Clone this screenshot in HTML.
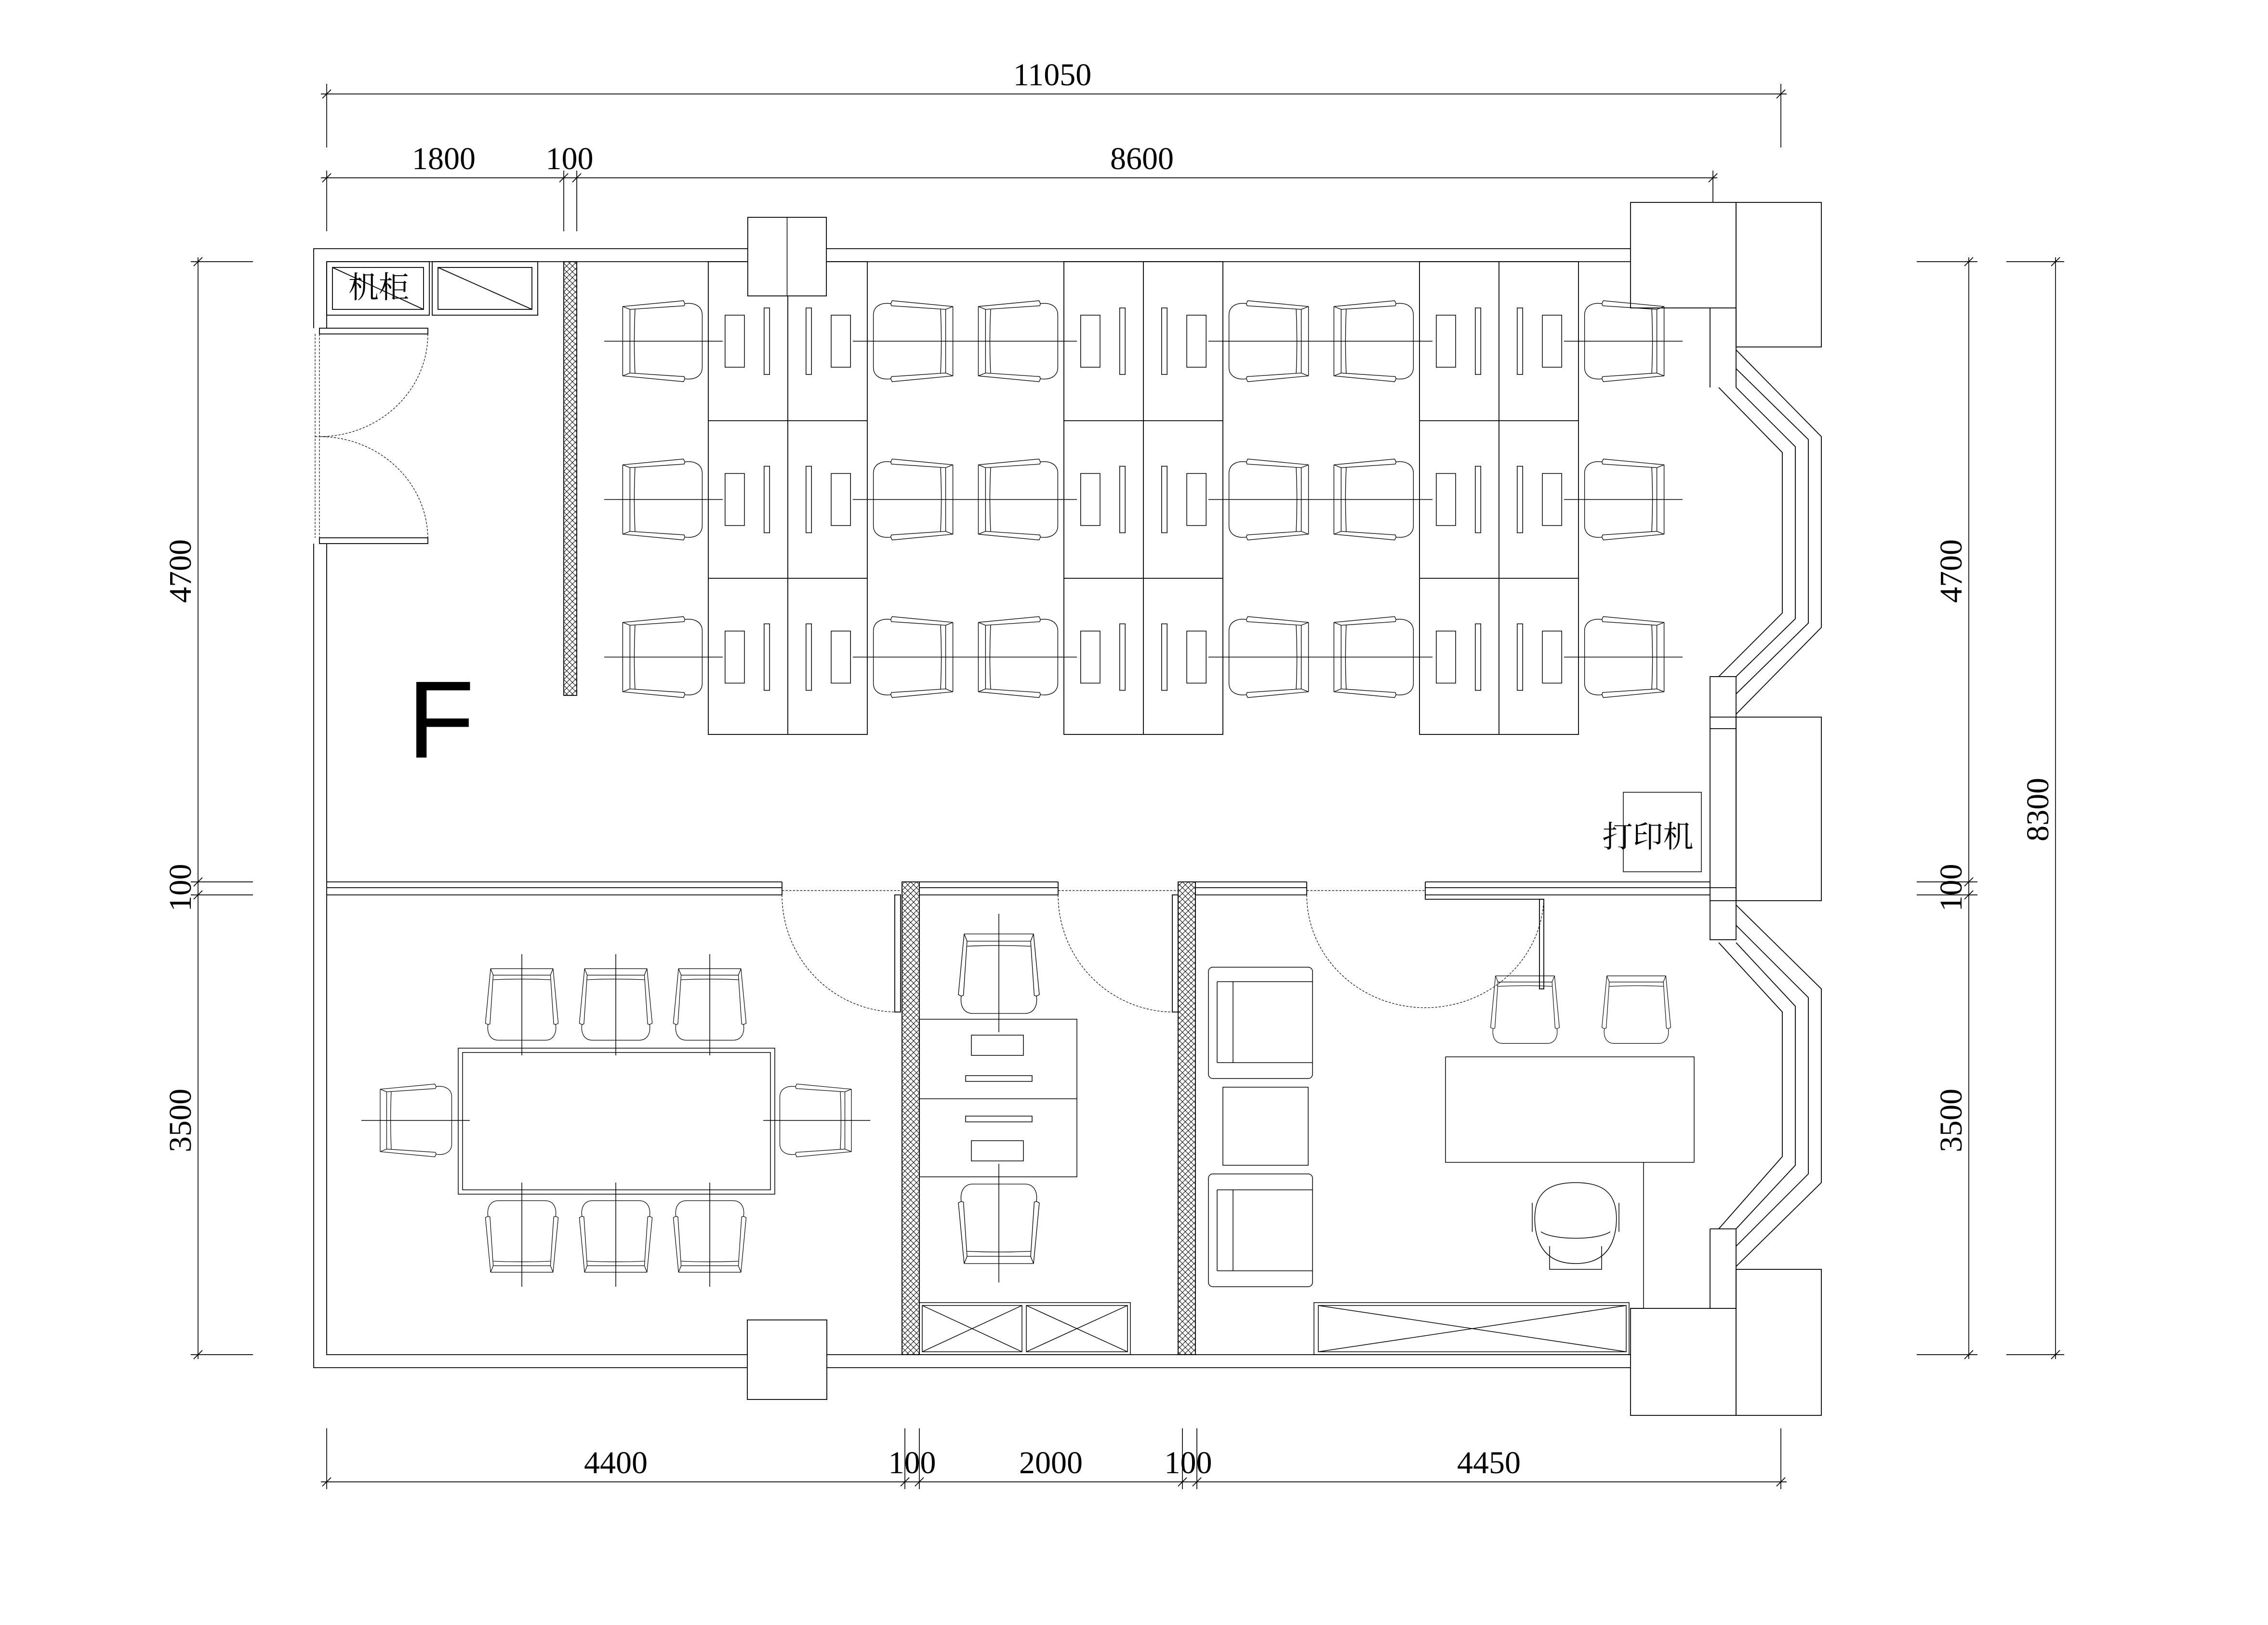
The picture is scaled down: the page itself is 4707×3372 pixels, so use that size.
<!DOCTYPE html>
<html><head><meta charset="utf-8"><style>
html,body{margin:0;padding:0;background:#fff;}
svg{display:block;}
text{font-family:"Liberation Serif","Noto Serif CJK SC","Noto Sans CJK SC",serif;fill:#000;}
</style></head><body>
<svg xmlns="http://www.w3.org/2000/svg" width="4707" height="3372" viewBox="0 0 1569 1124">
<defs>
<pattern id="h" width="4" height="4" patternUnits="userSpaceOnUse">
<path d="M0,0L4,4M4,0L0,4" stroke="#000" stroke-width="0.35"/>
</pattern>
<g id="ch" fill="none" stroke="#000" stroke-width="0.45">
<path d="M0,-24L0,24M5,-22L5,22"/>
<path d="M0,-24L42,-28L43,-26L42.5,-24.5L5,-22Z"/>
<path d="M0,24L42,28L43,26L42.5,24.5L5,22Z"/>
<path d="M43,-26C50,-27 55,-24 55,-18L55,18C55,24 50,27 43,26"/>
<path d="M8.5,-22Q7.5,0 8.5,22"/>
</g>
<g id="tk"><path d="M-3,3L3,-3" stroke="#000" stroke-width="0.6"/></g>
</defs>
<g fill="none" stroke="#000" stroke-width="0.55">
<path d="M222,65H1236M226,58V102M1232,58V102"/>
<path d="M222,123H1188M226,118V160M390,118V160M399,118V160M1185,118V160"/>
<path d="M222,1025H1236M226,988V1030M626,988V1030M636,988V1030M818,988V1030M828,988V1030M1232,988V1030"/>
<path d="M137,178V940M132,181H175M132,610H175M132,619H175M132,937H175"/>
<path d="M1362,178V940M1326,181H1368M1326,610H1368M1326,619H1368M1326,937H1368"/>
<path d="M1422,178V940M1388,181H1428M1388,937H1428"/>
</g>
<g>
<use href="#tk" x="226" y="65"/><use href="#tk" x="1232" y="65"/>
<use href="#tk" x="226" y="123"/><use href="#tk" x="390" y="123"/><use href="#tk" x="399" y="123"/><use href="#tk" x="1185" y="123"/>
<use href="#tk" x="226" y="1025"/><use href="#tk" x="626" y="1025"/><use href="#tk" x="636" y="1025"/><use href="#tk" x="818" y="1025"/><use href="#tk" x="828" y="1025"/><use href="#tk" x="1232" y="1025"/>
<use href="#tk" x="137" y="181"/><use href="#tk" x="137" y="610"/><use href="#tk" x="137" y="619"/><use href="#tk" x="137" y="937"/>
<use href="#tk" x="1362" y="181"/><use href="#tk" x="1362" y="610"/><use href="#tk" x="1362" y="619"/><use href="#tk" x="1362" y="937"/>
<use href="#tk" x="1422" y="181"/><use href="#tk" x="1422" y="937"/>
</g>
<g font-size="22" text-anchor="middle">
<text x="728" y="59">11050</text>
<text x="307" y="117">1800</text><text x="394" y="117">100</text><text x="790" y="117">8600</text>
<text x="426" y="1019">4400</text><text x="631" y="1019">100</text><text x="727" y="1019">2000</text><text x="822" y="1019">100</text><text x="1030" y="1019">4450</text>
<text transform="translate(132,395) rotate(-90)">4700</text>
<text transform="translate(132,614) rotate(-90)">100</text>
<text transform="translate(132,775) rotate(-90)">3500</text>
<text transform="translate(1357,395) rotate(-90)">4700</text>
<text transform="translate(1357,614) rotate(-90)">100</text>
<text transform="translate(1357,775) rotate(-90)">3500</text>
<text transform="translate(1417,560) rotate(-90)">8300</text>
</g>

<g fill="none" stroke="#000" stroke-width="0.6">
<path d="M217,227V172H1128M226,227V181H1128"/>
<path d="M217,376V946H1128M226,376V937H1128"/>
<rect x="221" y="227" width="75" height="4"/>
<rect x="221" y="372" width="75" height="4"/>
<path d="M218,231V372M221,231V372" stroke-dasharray="1.5,1" stroke-width="0.4"/>
<path d="M296,231A75,71 0 0 1 221,302M221,302A75,71 0 0 1 296,372M218,302H226" stroke-dasharray="1.5,1" stroke-width="0.4"/>
<rect x="517" y="913" width="55" height="55" fill="#fff"/>
<rect x="1128" y="140" width="73" height="73" fill="#fff"/>
<rect x="1201" y="140" width="59" height="100" fill="#fff"/>
<rect x="1128" y="905" width="73" height="74" fill="#fff"/>
<rect x="1201" y="878" width="59" height="101" fill="#fff"/>
<rect x="1201" y="496" width="59" height="127" fill="#fff"/>
<path d="M1183,213V268M1201,213V268"/>
<rect x="1183" y="468" width="18" height="182"/>
<path d="M1183,496H1201M1183,504H1201M1183,614H1201M1183,623H1201"/>
<path d="M1183,850V905M1201,850V905M1183,850H1201"/>
<path d="M1201,242L1260,302V434L1201,494"/>
<path d="M1201,255L1251,304V431L1201,480"/>
<path d="M1201,268L1242,309V428L1201,468"/>
<path d="M1189,268L1233,313V424L1189,468"/>
<path d="M1201,626L1260,684V818L1201,876"/>
<path d="M1201,640L1251,690V812L1201,862"/>
<path d="M1201,652L1242,696V806L1201,850"/>
<path d="M1189,652L1233,700V800L1189,850"/>
<path d="M226,610H541M226,614H541M226,619H541M541,610V619"/>
<path d="M636,610H732M636,614H732M636,619H732M732,610V619"/>
<path d="M827,610H904M827,614H904M827,619H904M904,610V619"/>
<path d="M986,610H1183M986,614H1183M986,619H1183M986,610V622H1068"/>
<path d="M541,616H623M732,616H815M904,616H986" stroke-dasharray="1.5,1" stroke-width="0.4"/>
<rect x="390" y="181" width="9" height="300" fill="url(#h)"/>
<rect x="624" y="610" width="12" height="327" fill="url(#h)"/>
<rect x="815" y="610" width="12" height="327" fill="url(#h)"/>
<rect x="619" y="619" width="4" height="81"/>
<path d="M541,619A80,81 0 0 0 619,700" stroke-dasharray="1.5,1" stroke-width="0.4"/>
<rect x="811" y="619" width="4" height="81"/>
<path d="M732,619A80,81 0 0 0 811,700" stroke-dasharray="1.5,1" stroke-width="0.4"/>
<rect x="1065" y="622" width="3" height="62"/>
<path d="M904,619A82,78 0 0 0 986,697A82,78 0 0 0 1068,622" stroke-dasharray="1.5,1" stroke-width="0.4"/>
<rect x="226" y="181" width="71" height="37"/><rect x="230" y="185" width="63" height="29"/><path d="M230,185L293,214"/>
<rect x="299" y="181" width="73" height="37"/><rect x="303" y="185" width="65" height="29"/><path d="M303,185L368,214"/>
<rect x="490" y="181" width="110" height="327"/><path d="M545,181V508M490,291H600M490,400H600"/>
<rect x="736" y="181" width="110" height="327"/><path d="M791,181V508M736,291H846M736,400H846"/>
<rect x="982" y="181" width="110" height="327"/><path d="M1037,181V508M982,291H1092M982,400H1092"/>
</g>
<rect x="517.3" y="150.3" width="54.4" height="54.4" fill="#fff" stroke="#000" stroke-width="0.6"/>
<path d="M544.5,150V205" stroke="#000" stroke-width="0.5"/>

<g fill="none" stroke="#000" stroke-width="0.5">
<g id="dk">
<rect x="501.6" y="218" width="13.4" height="36"/><rect x="528.6" y="213" width="3.8" height="46"/>
<rect x="557.6" y="213" width="3.8" height="46"/><rect x="575" y="218" width="13.4" height="36"/>
<rect x="747.6" y="218" width="13.4" height="36"/><rect x="774.6" y="213" width="3.8" height="46"/>
<rect x="803.6" y="213" width="3.8" height="46"/><rect x="821" y="218" width="13.4" height="36"/>
<rect x="993.6" y="218" width="13.4" height="36"/><rect x="1020.6" y="213" width="3.8" height="46"/>
<rect x="1049.6" y="213" width="3.8" height="46"/><rect x="1067" y="218" width="13.4" height="36"/>
<path d="M418,236H500M590,236H745M836,236H991M1082,236H1164"/>
<use href="#ch" transform="translate(430.8,236)"/>
<use href="#ch" transform="translate(676.8,236)"/>
<use href="#ch" transform="translate(922.8,236)"/>
<use href="#ch" transform="translate(659.2,236) scale(-1,1)"/>
<use href="#ch" transform="translate(905.2,236) scale(-1,1)"/>
<use href="#ch" transform="translate(1151.2,236) scale(-1,1)"/>
</g>
<use href="#dk" y="109.5"/>
<use href="#dk" y="218.5"/>

<rect x="317" y="725" width="219" height="101"/><rect x="320" y="728" width="213" height="95"/>
<use href="#ch" transform="translate(361,670) rotate(90) scale(0.9)"/>
<use href="#ch" transform="translate(426,670) rotate(90) scale(0.9)"/>
<use href="#ch" transform="translate(491,670) rotate(90) scale(0.9)"/>
<use href="#ch" transform="translate(361,880) rotate(-90) scale(0.9)"/>
<use href="#ch" transform="translate(426,880) rotate(-90) scale(0.9)"/>
<use href="#ch" transform="translate(491,880) rotate(-90) scale(0.9)"/>
<use href="#ch" transform="translate(263,775) scale(0.9)"/>
<use href="#ch" transform="translate(589,775) scale(-0.9,0.9)"/>
<path d="M361,660V730M426,660V730M491,660V730M361,818V890M426,818V890M491,818V890M250,775H325M528,775H602"/>

<use href="#ch" transform="translate(691,646) rotate(90)"/>
<use href="#ch" transform="translate(691,874) rotate(-90)"/>
<path d="M691,632V714M691,805V887"/>
<rect x="636" y="705" width="109" height="109"/><path d="M636,760H745"/>
<rect x="672" y="716" width="36" height="14"/><rect x="668" y="744" width="46" height="4"/>
<rect x="668" y="772" width="46" height="4"/><rect x="672" y="789" width="36" height="14"/>
<rect x="636" y="901" width="146" height="36"/>
<rect x="638" y="903" width="69" height="32"/><path d="M638,903L707,935M707,903L638,935"/>
<rect x="710" y="903" width="70" height="32"/><path d="M710,903L780,935M780,903L710,935"/>

<rect x="836" y="669" width="72" height="77" rx="3"/><path d="M842,679H908M842,735H908M842,679V735M853,679V735"/>
<rect x="846" y="752" width="59" height="54"/>
<rect x="836" y="812" width="72" height="78" rx="3"/><path d="M842,823H908M842,879H908M842,823V879M853,823V879"/>
<rect x="909" y="901" width="218" height="36"/><rect x="912" y="903" width="213" height="32"/>
<path d="M912,903L1125,935M912,935L1125,903"/>
<path d="M1000,731H1172V804M1000,731V804H1172M1137,804V905M1137,905H1128"/>
<use href="#ch" transform="translate(1055,675) rotate(90) scale(0.85)"/>
<use href="#ch" transform="translate(1132,675) rotate(90) scale(0.85)"/>
<path d="M1062,848C1060,826 1070,818 1090,818C1110,818 1120,826 1118,848C1116,866 1106,874 1090,874C1074,874 1064,866 1062,848Z"/>
<path d="M1066,852C1075,858 1105,858 1114,852M1060,832V852M1120,832V852"/>
<path d="M1072,862L1072,878H1108L1108,862"/>
<rect x="1123" y="548" width="54" height="55"/>
</g>
<text x="1140" y="586" font-size="21" text-anchor="middle" style="font-family:'Noto Serif CJK SC','Noto Sans CJK SC',serif">打印机</text>
<text x="262" y="206" font-size="21" text-anchor="middle" style="font-family:'Noto Serif CJK SC','Noto Sans CJK SC',serif">机柜</text>
<text x="305" y="524" font-size="76" text-anchor="middle" style="font-family:'Liberation Sans',sans-serif">F</text>
</svg>
</body></html>
